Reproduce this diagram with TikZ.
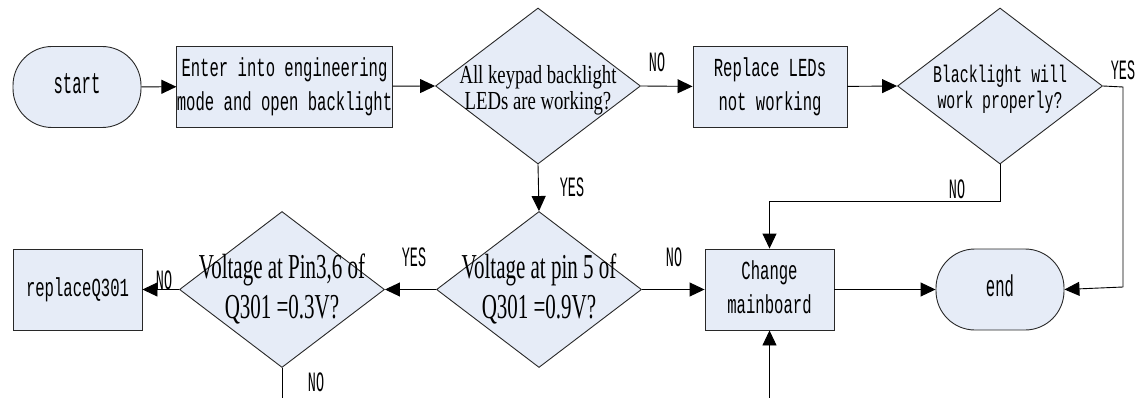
\documentclass[tikz,border=0pt]{standalone}
\usepackage{fontspec}
\usepackage{graphicx}
\usetikzlibrary{shapes.geometric,arrows.meta}
\newfontfamily\monofnt{Liberation Mono}
\newfontfamily\diafontA[FakeStretch=0.72]{Liberation Serif}
\newfontfamily\diafontB[FakeStretch=0.6]{Liberation Serif}
\newcommand{\bxt}[2][0.6]{\scalebox{#1}[1]{\begin{tabular}{@{}c@{}}#2\end{tabular}}}
\definecolor{fillc}{RGB}{230,236,247}
\definecolor{linec}{RGB}{40,40,40}
\tikzset{
  proc/.style={draw=linec, line width=0.9pt, fill=fillc, minimum width=#1, minimum height=81pt, inner sep=0pt, align=center, font=\monofnt\fontsize{26}{34}\selectfont},
  term/.style={draw=linec, line width=0.9pt, fill=fillc, rounded corners=39pt, minimum width=128pt, minimum height=81pt, inner sep=0pt, font=\monofnt\fontsize{30}{34}\selectfont},
  dia/.style={draw=linec, line width=0.9pt, fill=fillc, diamond, minimum width=205pt, minimum height=156pt, inner sep=0pt},
  lab/.style={font=\monofnt\fontsize{28}{28}\selectfont, inner sep=0pt},
  conn/.style={draw=black, line width=0.9pt},
  arr/.style={conn, -{Triangle[length=15pt,width=14pt]}}
}
\begin{document}
\begin{tikzpicture}[x=1pt,y=-1pt]
\useasboundingbox (0,0) rectangle (1147,398);
% nodes
\node[term] (start) at (77,87) {\bxt[0.52]{start}};
\node[proc=211pt] (enter) at (284.5,86.5) {\bxt{Enter into engineering\\mode and open backlight}};
\node[dia, label={[font=\diafontA\fontsize{26}{26}\selectfont, align=center, yshift=-4pt]center:All keypad backlight\\LEDs are working?}] (d1) at (538,86) {};
\node[proc=154pt] (repl) at (770,87) {\bxt{Replace LEDs\\not working}};
\node[dia, label={[font=\monofnt\fontsize{24}{26}\selectfont, yshift=-4pt]center:{\scalebox{0.62}[1]{\begin{tabular}{@{}c@{}}Blacklight will\\work properly?\end{tabular}}}}] (d2) at (1000,86) {};
\node[dia, label={[font=\diafontB\fontsize{35}{40}\selectfont, align=center]center:Voltage at pin 5 of\\Q301 =0.9V?}] (d3) at (539,289.5) {};
\node[dia, label={[font=\diafontB\fontsize{35}{40}\selectfont, align=center]center:Voltage at Pin3,6 of\\Q301 =0.3V?}] (d4) at (282,289.5) {};
\node[proc=129pt] (chg) at (769.5,289.5) {\bxt{Change\\mainboard}};
\node[term] (end) at (1000,289.5) {\bxt[0.52]{end}};
\node[proc=129pt] (rq) at (77.5,289.5) {\bxt{replaceQ301}};
% helper coordinates
\coordinate (yesR) at (1123,87);
\coordinate (yesRb) at (1123,287);
\coordinate (noJ) at (1000,201);
\coordinate (chgIn) at (769.5,398);
\coordinate (d4out) at (282,398);
% connectors
\draw[arr] (start) -- (enter);
\draw[arr] (enter) -- (d1.west);
\draw[arr] (d1.east) -- (repl);
\draw[arr] (repl) -- (d2.west);
\draw[arr] (d1.south) -- (d3.north);
\draw[conn] (d2.east) -- (yesR) -- (yesRb);
\draw[arr] (yesRb) -- (end.east);
\draw[arr] (d2.south) -- (noJ) -| (chg.north);
\draw[arr] (d3.east) -- (chg.west);
\draw[arr] (chg.east) -- (end.west);
\draw[arr] (d3.west) -- (d4.east);
\draw[arr] (d4.west) -- (rq.east);
\draw[conn] (d4.south) -- (d4out);
\draw[arr] (chgIn) -- (chg.south);
% labels
\node[lab] (l1) at (657,62) {\scalebox{0.48}[1]{NO}};
\node[lab] (l2) at (572,187) {\scalebox{0.48}[1]{YES}};
\node[lab] (l3) at (1123,70) {\scalebox{0.48}[1]{YES}};
\node[lab] (l4) at (957,189) {\scalebox{0.48}[1]{NO}};
\node[lab] (l5) at (674,257) {\scalebox{0.48}[1]{NO}};
\node[lab] (l6) at (414,257) {\scalebox{0.48}[1]{YES}};
\node[lab] (l7) at (164,280) {\scalebox{0.48}[1]{NO}};
\node[lab] (l8) at (316,382) {\scalebox{0.48}[1]{NO}};
\end{tikzpicture}
\end{document}
